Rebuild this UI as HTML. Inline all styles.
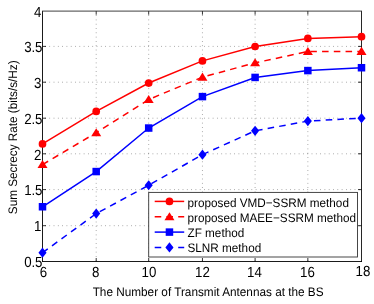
<!DOCTYPE html><html><head><meta charset="utf-8"><style>html,body{margin:0;padding:0;background:#fff}svg{display:block;will-change:transform}text{text-rendering:geometricPrecision;font-family:"Liberation Sans",sans-serif;fill:#000}</style></head><body>
<svg width="374" height="304" viewBox="0 0 374 304">
<rect width="374" height="304" fill="#fff"/>
<path d="M96.20 15.2 V261.5 M148.70 15.2 V261.5 M202.45 15.2 V261.5 M255.10 15.2 V261.5 M307.85 15.2 V261.5 M45.0 225.70 H361.5 M45.0 189.60 H361.5 M45.0 153.80 H361.5 M45.0 118.20 H361.5 M45.0 82.20 H361.5 M45.0 46.40 H361.5" stroke="#000" stroke-width="0.5" stroke-opacity="0.8" stroke-dasharray="0.8 3.5" fill="none"/>
<path d="M42.5 11.2 V262.0" stroke="#000" stroke-width="0.9" fill="none"/>
<path d="M361.5 11.2 V262.0" stroke="#000" stroke-width="0.85" fill="none"/>
<path d="M42.0 261.5 H362.0" stroke="#000" stroke-width="0.9" fill="none"/>
<path d="M42.0 11.1 H362.0" stroke="#000" stroke-width="0.75" fill="none"/>
<path d="M96.20 261.5 v-3.5 M96.20 11.2 v3.5 M148.70 261.5 v-3.5 M148.70 11.2 v3.5 M202.45 261.5 v-3.5 M202.45 11.2 v3.5 M255.10 261.5 v-3.5 M255.10 11.2 v3.5 M307.85 261.5 v-3.5 M307.85 11.2 v3.5 M42.5 225.70 h3.5 M361.5 225.70 h-3.5 M42.5 189.60 h3.5 M361.5 189.60 h-3.5 M42.5 153.80 h3.5 M361.5 153.80 h-3.5 M42.5 118.20 h3.5 M361.5 118.20 h-3.5 M42.5 82.20 h3.5 M361.5 82.20 h-3.5 M42.5 46.40 h3.5 M361.5 46.40 h-3.5" stroke="#000" stroke-width="0.8" fill="none"/>
<polyline points="42.50,143.96 96.20,111.46 148.70,83.04 202.45,60.90 255.10,46.50 307.85,38.44 361.50,36.71" stroke="#ff0000" stroke-width="1.5" fill="none"/>
<polyline points="42.50,164.57 96.20,132.74 148.70,99.49 202.45,77.13 255.10,62.84 307.85,51.51 361.50,51.41" stroke="#ff0000" stroke-width="1.5" stroke-dasharray="6.55 5.2" fill="none"/>
<polyline points="42.50,206.76 96.20,171.56 148.70,128.04 202.45,96.61 255.10,77.43 307.85,70.59 361.50,67.73" stroke="#0000ff" stroke-width="1.5" fill="none"/>
<polyline points="42.50,252.71 96.20,213.59 148.70,185.27 202.45,154.67 255.10,130.80 307.85,121.10 361.50,118.14" stroke="#0000ff" stroke-width="1.5" stroke-dasharray="6.55 5.2" fill="none"/>
<circle cx="42.50" cy="143.96" r="3.85" fill="#ff0000"/>
<circle cx="96.20" cy="111.46" r="3.85" fill="#ff0000"/>
<circle cx="148.70" cy="83.04" r="3.85" fill="#ff0000"/>
<circle cx="202.45" cy="60.90" r="3.85" fill="#ff0000"/>
<circle cx="255.10" cy="46.50" r="3.85" fill="#ff0000"/>
<circle cx="307.85" cy="38.44" r="3.85" fill="#ff0000"/>
<circle cx="361.50" cy="36.71" r="3.85" fill="#ff0000"/>
<path d="M42.50 160.02 L47.50 168.07 H37.50 Z" fill="#ff0000"/>
<path d="M96.20 128.19 L101.20 136.24 H91.20 Z" fill="#ff0000"/>
<path d="M148.70 94.94 L153.70 102.99 H143.70 Z" fill="#ff0000"/>
<path d="M202.45 72.58 L207.45 80.63 H197.45 Z" fill="#ff0000"/>
<path d="M255.10 58.29 L260.10 66.34 H250.10 Z" fill="#ff0000"/>
<path d="M307.85 46.96 L312.85 55.01 H302.85 Z" fill="#ff0000"/>
<path d="M361.50 46.86 L366.50 54.91 H356.50 Z" fill="#ff0000"/>
<rect x="38.75" y="203.01" width="7.5" height="7.5" fill="#0000ff"/>
<rect x="92.45" y="167.81" width="7.5" height="7.5" fill="#0000ff"/>
<rect x="144.95" y="124.29" width="7.5" height="7.5" fill="#0000ff"/>
<rect x="198.70" y="92.86" width="7.5" height="7.5" fill="#0000ff"/>
<rect x="251.35" y="73.68" width="7.5" height="7.5" fill="#0000ff"/>
<rect x="304.10" y="66.84" width="7.5" height="7.5" fill="#0000ff"/>
<rect x="357.75" y="63.98" width="7.5" height="7.5" fill="#0000ff"/>
<path d="M42.50 247.61 L46.55 252.71 L42.50 257.81 L38.45 252.71 Z" fill="#0000ff"/>
<path d="M96.20 208.49 L100.25 213.59 L96.20 218.69 L92.15 213.59 Z" fill="#0000ff"/>
<path d="M148.70 180.17 L152.75 185.27 L148.70 190.37 L144.65 185.27 Z" fill="#0000ff"/>
<path d="M202.45 149.57 L206.50 154.67 L202.45 159.77 L198.40 154.67 Z" fill="#0000ff"/>
<path d="M255.10 125.70 L259.15 130.80 L255.10 135.90 L251.05 130.80 Z" fill="#0000ff"/>
<path d="M307.85 116.00 L311.90 121.10 L307.85 126.20 L303.80 121.10 Z" fill="#0000ff"/>
<path d="M361.50 113.04 L365.55 118.14 L361.50 123.24 L357.45 118.14 Z" fill="#0000ff"/>
<rect x="148.7" y="192.4" width="208.8" height="64.6" fill="#fff" stroke="#333" stroke-width="0.9"/>
<path d="M154.7 201.4 H184.2" stroke="#ff0000" stroke-width="1.5" fill="none"/>
<circle cx="169.45" cy="201.40" r="3.85" fill="#ff0000"/>
<path d="M154.7 216.7 H184.2" stroke="#ff0000" stroke-width="1.5" stroke-dasharray="6.55 5.2" fill="none"/>
<path d="M169.45 212.15 L174.45 220.20 H164.45 Z" fill="#ff0000"/>
<path d="M154.7 232.1 H184.2" stroke="#0000ff" stroke-width="1.5" fill="none"/>
<rect x="165.70" y="228.35" width="7.5" height="7.5" fill="#0000ff"/>
<path d="M154.7 247.4 H184.2" stroke="#0000ff" stroke-width="1.5" stroke-dasharray="6.55 5.2" fill="none"/>
<path d="M169.45 242.30 L173.50 247.40 L169.45 252.50 L165.40 247.40 Z" fill="#0000ff"/>
<text transform="translate(187.50,206.50) scale(1,1.05)" font-size="11.74" text-anchor="start">proposed VMD−SSRM method</text>
<text transform="translate(187.50,221.80) scale(1,1.05)" font-size="11.74" text-anchor="start">proposed MAEE−SSRM method</text>
<text transform="translate(187.50,236.70) scale(1,1.05)" font-size="11.74" text-anchor="start">ZF method</text>
<text transform="translate(187.50,252.20) scale(1,1.05)" font-size="11.74" text-anchor="start">SLNR method</text>
<text transform="translate(43.40,276.50) scale(1,1.1)" font-size="13.3" text-anchor="middle">6</text>
<text transform="translate(95.70,277.10) scale(1,1.1)" font-size="13.3" text-anchor="middle">8</text>
<text transform="translate(149.00,277.40) scale(1,1.1)" font-size="13.3" text-anchor="middle">10</text>
<text transform="translate(202.50,277.40) scale(1,1.1)" font-size="13.3" text-anchor="middle">12</text>
<text transform="translate(254.50,277.40) scale(1,1.1)" font-size="13.3" text-anchor="middle">14</text>
<text transform="translate(307.50,277.40) scale(1,1.1)" font-size="13.3" text-anchor="middle">16</text>
<text transform="translate(362.90,275.90) scale(1,1.1)" font-size="13.3" text-anchor="middle">18</text>
<text transform="translate(42.30,267.45) scale(1,1.1)" font-size="13.3" text-anchor="end" letter-spacing="-0.15">0.5</text>
<text transform="translate(41.40,231.35) scale(1,1.1)" font-size="13.3" text-anchor="end">1</text>
<text transform="translate(42.30,195.25) scale(1,1.1)" font-size="13.3" text-anchor="end" letter-spacing="-0.15">1.5</text>
<text transform="translate(41.40,159.85) scale(1,1.1)" font-size="13.3" text-anchor="end">2</text>
<text transform="translate(42.30,123.85) scale(1,1.1)" font-size="13.3" text-anchor="end" letter-spacing="-0.15">2.5</text>
<text transform="translate(41.40,87.85) scale(1,1.1)" font-size="13.3" text-anchor="end">3</text>
<text transform="translate(42.30,52.05) scale(1,1.1)" font-size="13.3" text-anchor="end" letter-spacing="-0.15">3.5</text>
<text transform="translate(41.40,16.85) scale(1,1.1)" font-size="13.3" text-anchor="end">4</text>
<text transform="translate(208.10,295.50) scale(1,1.05)" font-size="11.78" text-anchor="middle">The Number of Transmit Antennas at the BS</text>
<text transform="translate(17.20,137.30) rotate(-90) scale(1,1.05)" font-size="11.72" text-anchor="middle">Sum Secrecy Rate (bits/s/Hz)</text>
</svg></body></html>
